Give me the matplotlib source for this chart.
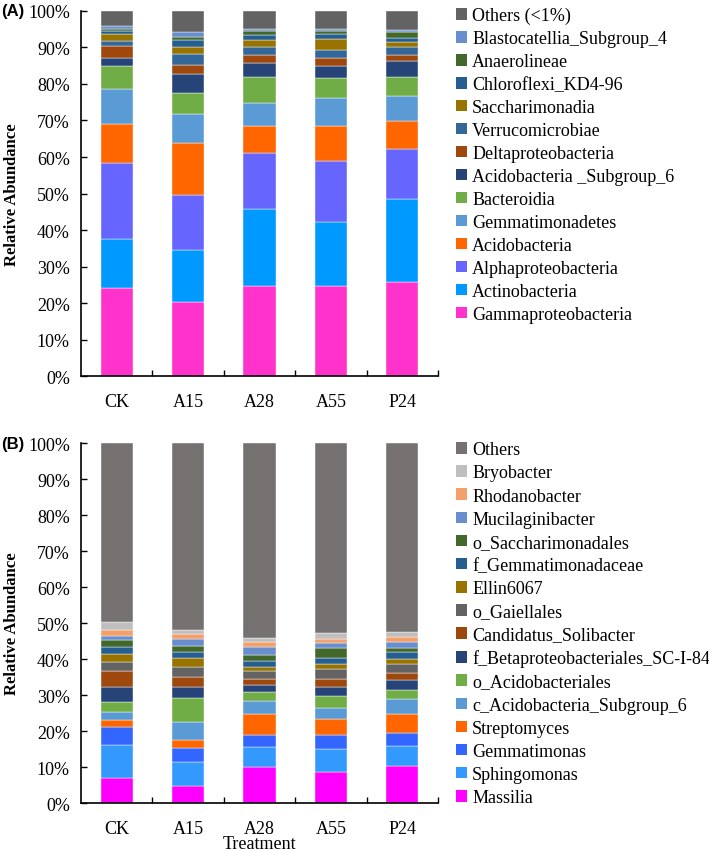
import numpy as np
import matplotlib
matplotlib.use("Agg")
import matplotlib.pyplot as plt
from matplotlib.patches import Patch

plt.rcParams['font.family'] = ['Liberation Serif', 'DejaVu Serif']

treatments = ['CK', 'A15', 'A28', 'A55', 'P24']

# panel A: class level, bottom -> top
names_a = ['Gammaproteobacteria', 'Actinobacteria', 'Alphaproteobacteria', 'Acidobacteria',
           'Gemmatimonadetes', 'Bacteroidia', 'Acidobacteria _Subgroup_6', 'Deltaproteobacteria',
           'Verrucomicrobiae', 'Saccharimonadia', 'Chloroflexi_KD4-96', 'Anaerolineae',
           'Blastocatellia_Subgroup_4', 'Others (<1%)']
vals_a = [
    [24.2, 20.4, 24.6, 24.6, 25.9],
    [13.4, 14.2, 21.2, 17.7, 22.6],
    [20.7, 14.9, 15.3, 16.5, 13.8],
    [10.7, 14.2, 7.3, 9.7, 7.5],
    [9.7, 8.1, 6.5, 7.6, 6.8],
    [6.1, 5.7, 7.0, 5.6, 5.4],
    [2.2, 5.1, 3.8, 3.1, 4.2],
    [3.3, 2.6, 2.1, 2.2, 1.8],
    [1.4, 2.9, 2.3, 2.2, 2.1],
    [2.0, 1.9, 1.8, 3.0, 1.3],
    [0.7, 1.9, 1.5, 1.3, 1.2],
    [0.7, 1.0, 1.1, 0.9, 1.5],
    [0.7, 1.4, 0.6, 0.5, 0.7],
    [4.2, 5.7, 4.9, 5.1, 5.2],
]
colors_a = ['#FF33CC', '#0099FF', '#6666FF', '#FF6600', '#5B9BD5', '#70AD47', '#264478',
            '#9E480E', '#336699', '#997300', '#255E91', '#43682B', '#698ED0', '#636363']

# panel B: genus level, bottom -> top
names_b = ['Massilia', 'Sphingomonas', 'Gemmatimonas', 'Streptomyces', 'c_Acidobacteria_Subgroup_6',
           'o_Acidobacteriales', 'f_Betaproteobacteriales_SC-I-84', 'Candidatus_Solibacter',
           'o_Gaiellales', 'Ellin6067', 'f_Gemmatimonadaceae', 'o_Saccharimonadales',
           'Mucilaginibacter', 'Rhodanobacter', 'Bryobacter', 'Others']
vals_b = [
    [6.9, 4.8, 10.1, 8.7, 10.4],
    [9.2, 6.5, 5.5, 6.3, 5.5],
    [5.1, 4.1, 3.4, 4.0, 3.5],
    [1.8, 2.1, 5.7, 4.3, 5.3],
    [2.2, 4.9, 3.7, 3.1, 4.2],
    [2.8, 6.9, 2.5, 3.2, 2.5],
    [4.3, 2.9, 1.9, 2.7, 2.8],
    [4.5, 2.9, 1.6, 2.2, 1.9],
    [2.4, 2.6, 2.4, 2.7, 2.4],
    [2.2, 2.5, 1.1, 1.4, 1.6],
    [2.0, 1.7, 1.5, 1.8, 1.8],
    [1.9, 1.7, 1.6, 2.7, 1.1],
    [1.1, 2.0, 2.4, 1.4, 1.6],
    [1.8, 1.3, 1.3, 1.2, 1.6],
    [2.0, 1.3, 1.1, 1.6, 1.4],
    [49.8, 51.8, 54.2, 52.7, 52.4],
]
colors_b = ['#FF00FF', '#3399FF', '#3366FF', '#FF6600', '#5B9BD5', '#70AD47', '#264478',
            '#9E480E', '#636363', '#997300', '#255E91', '#43682B', '#698ED0', '#F4A06A',
            '#BFBFBF', '#767171']

fig = plt.figure(figsize=(7.09, 8.54), dpi=100)
ax_a = fig.add_axes([0.1142, 0.558, 0.5035, 0.4283])
ax_b = fig.add_axes([0.1142, 0.0585, 0.5035, 0.4215])


def stacked(ax, names, vals, colors, label, xlabel=None, spacing=0.33, top=1.03):
    x = np.arange(len(treatments))
    bottom = np.zeros(len(treatments))
    for name, v, c in zip(names, vals, colors):
        v = np.array(v)
        ax.bar(x, v, 0.45, bottom=bottom, color=c, edgecolor='white', linewidth=0.3)
        bottom += v
    ax.set_xlim(-0.5, 4.5)
    ax.set_ylim(0, 100)
    ax.set_yticks(np.arange(0, 101, 10))
    ax.set_yticklabels([f'{t}%' for t in range(0, 101, 10)], fontsize=13)
    ax.set_xticks(x)
    ax.set_xticklabels(treatments, fontsize=13)
    ax.set_xticks(np.arange(0.5, 5, 1), minor=True)
    ax.tick_params(axis='x', which='major', length=0, pad=12)
    ax.tick_params(axis='x', which='minor', direction='in', length=4, width=1)
    ax.tick_params(axis='y', direction='in', length=4, width=1, pad=8)
    for s in ['top', 'right']:
        ax.spines[s].set_visible(False)
    for s in ['left', 'bottom']:
        ax.spines[s].set_linewidth(1.2)
    ax.set_ylabel('Relative Abundance', fontsize=12, fontweight='bold', labelpad=6)
    if xlabel:
        ax.set_xlabel(xlabel, fontsize=13)
        ax.xaxis.set_label_coords(0.5, -0.136)
        ax.xaxis.label.set_va('bottom')
    handles = [Patch(facecolor=c, edgecolor='none') for c in colors][::-1]
    ax.legend(handles, names[::-1], loc='upper left', bbox_to_anchor=(1.03, top),
              frameon=False, fontsize=13, handlelength=0.6, handleheight=0.6,
              handletextpad=0.3, labelspacing=spacing, borderaxespad=0)
    ax.text(-0.225, 1.0, label, transform=ax.transAxes, fontsize=12, fontweight='bold',
            family='Liberation Sans', ha='left', va='center')


stacked(ax_a, names_a, vals_a, colors_a, '(A)')
stacked(ax_b, names_b, vals_b, colors_b, '(B)', xlabel='Treatment', spacing=0.34, top=1.025)

fig.savefig('out.png', dpi=100)
